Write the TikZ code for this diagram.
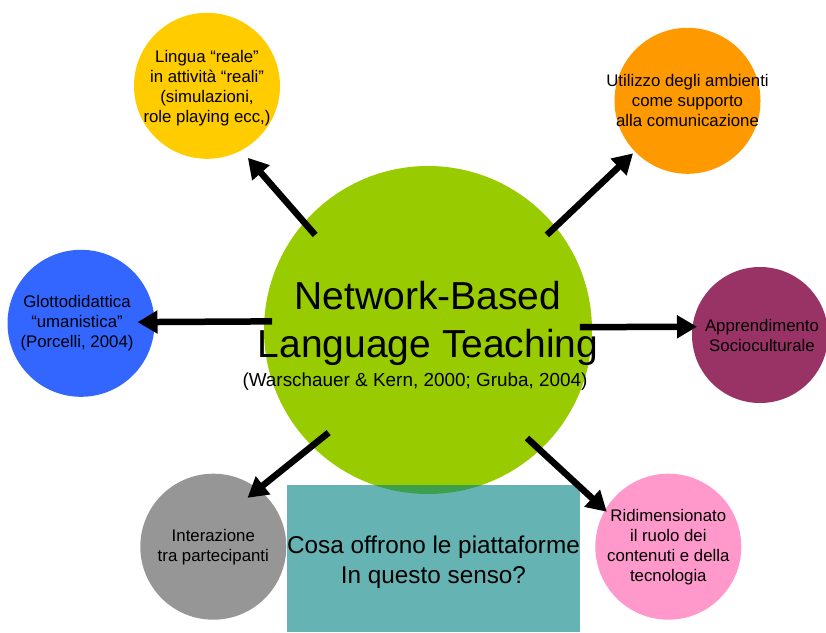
\documentclass[tikz,border=0pt]{standalone}
\usepackage{fontspec}
\setmainfont{Liberation Sans}
\usetikzlibrary{arrows.meta}
\definecolor{nbgreen}{HTML}{99CC00}
\definecolor{realeyellow}{HTML}{FFCC00}
\definecolor{ambientiorange}{HTML}{FF9900}
\definecolor{umanistblue}{HTML}{3366FF}
\definecolor{sociopurple}{HTML}{993366}
\definecolor{interazgray}{HTML}{969696}
\definecolor{ruolopink}{HTML}{FF99CC}
\begin{document}
\begin{tikzpicture}[x=1pt,y=-1pt,
    bubble/.style={circle,inner sep=0pt,outer sep=0pt,minimum size=146pt},
    txt/.style={align=center,font=\fontsize{16.8}{20}\selectfont},
    arr/.style={line width=6.5pt,-{Triangle[length=20pt,width=22pt]}}]
	\useasboundingbox (0,0) rectangle (826,632);

	\node[circle,fill=nbgreen,inner sep=0pt,outer sep=0pt,minimum size=328pt,
		label={[align=center,font=\fontsize{39}{48}\selectfont,yshift=7pt]center:Network-Based\\Language Teaching},
		label={[font=\fontsize{18.9}{21}\selectfont,xshift=-13pt,yshift=-51.5pt]center:(Warschauer \& Kern, 2000; Gruba, 2004)}] (nbl) at (428,330) {};
	\node[fill=teal,fill opacity=0.6,inner sep=0pt,outer sep=0pt,minimum width=293pt,minimum height=147pt,
		label={[align=center,font=\fontsize{24.3}{30}\selectfont,yshift=-3.5pt]center:Cosa offrono le piattaforme\\In questo senso?}] (offerta) at (433.5,558.5) {};

	\node[bubble,fill=realeyellow,label={[txt,yshift=-2pt]center:Lingua “reale”\\in attività “reali”\\(simulazioni,\\role playing ecc,)}] (reale) at (207,85.8) {};
	\node[bubble,fill=ambientiorange,label={[txt]center:Utilizzo degli ambienti\\come supporto\\alla comunicazione}] (ambienti) at (687.5,100.8) {};
	\node[bubble,fill=umanistblue,minimum size=147pt,label={[txt,xshift=-4pt]center:Glottodidattica\\“umanistica”\\(Porcelli, 2004)}] (umanist) at (81,323.3) {};
	\node[bubble,fill=sociopurple,minimum size=136pt,label={[txt,xshift=2pt]center:Apprendimento\\Socioculturale}] (socio) at (760,335) {};
	\node[bubble,fill=interazgray,label={[txt]center:Interazione\\tra partecipanti}] (interaz) at (213.3,546.7) {};
	\node[bubble,fill=ruolopink,label={[txt]center:Ridimensionato\\il ruolo dei\\contenuti e della\\tecnologia}] (ruolo) at (668.3,546.7) {};

	\draw[arr,shorten <=-16.6pt,shorten >=10pt] (nbl.139) -- (reale.-62);
	\draw[arr,shorten <=-11.8pt,shorten >=2.7pt] (nbl.39) -- (ambienti.-136.6);
	\draw[arr,shorten <=-7.8pt,shorten >=-17pt] (nbl.177.2) -- (umanist.1);
	\draw[arr,shorten <=-12pt,shorten >=-4.5pt] (nbl.1) -- (socio.173.2);
	\draw[arr,shorten <=-21.3pt,shorten >=-13.8pt] (nbl.-135.2) -- (interaz.52.2);
	\draw[arr,shorten <=-17.5pt,shorten >=-2.3pt] (nbl.-47.8) -- (ruolo.150);
\end{tikzpicture}
\end{document}
